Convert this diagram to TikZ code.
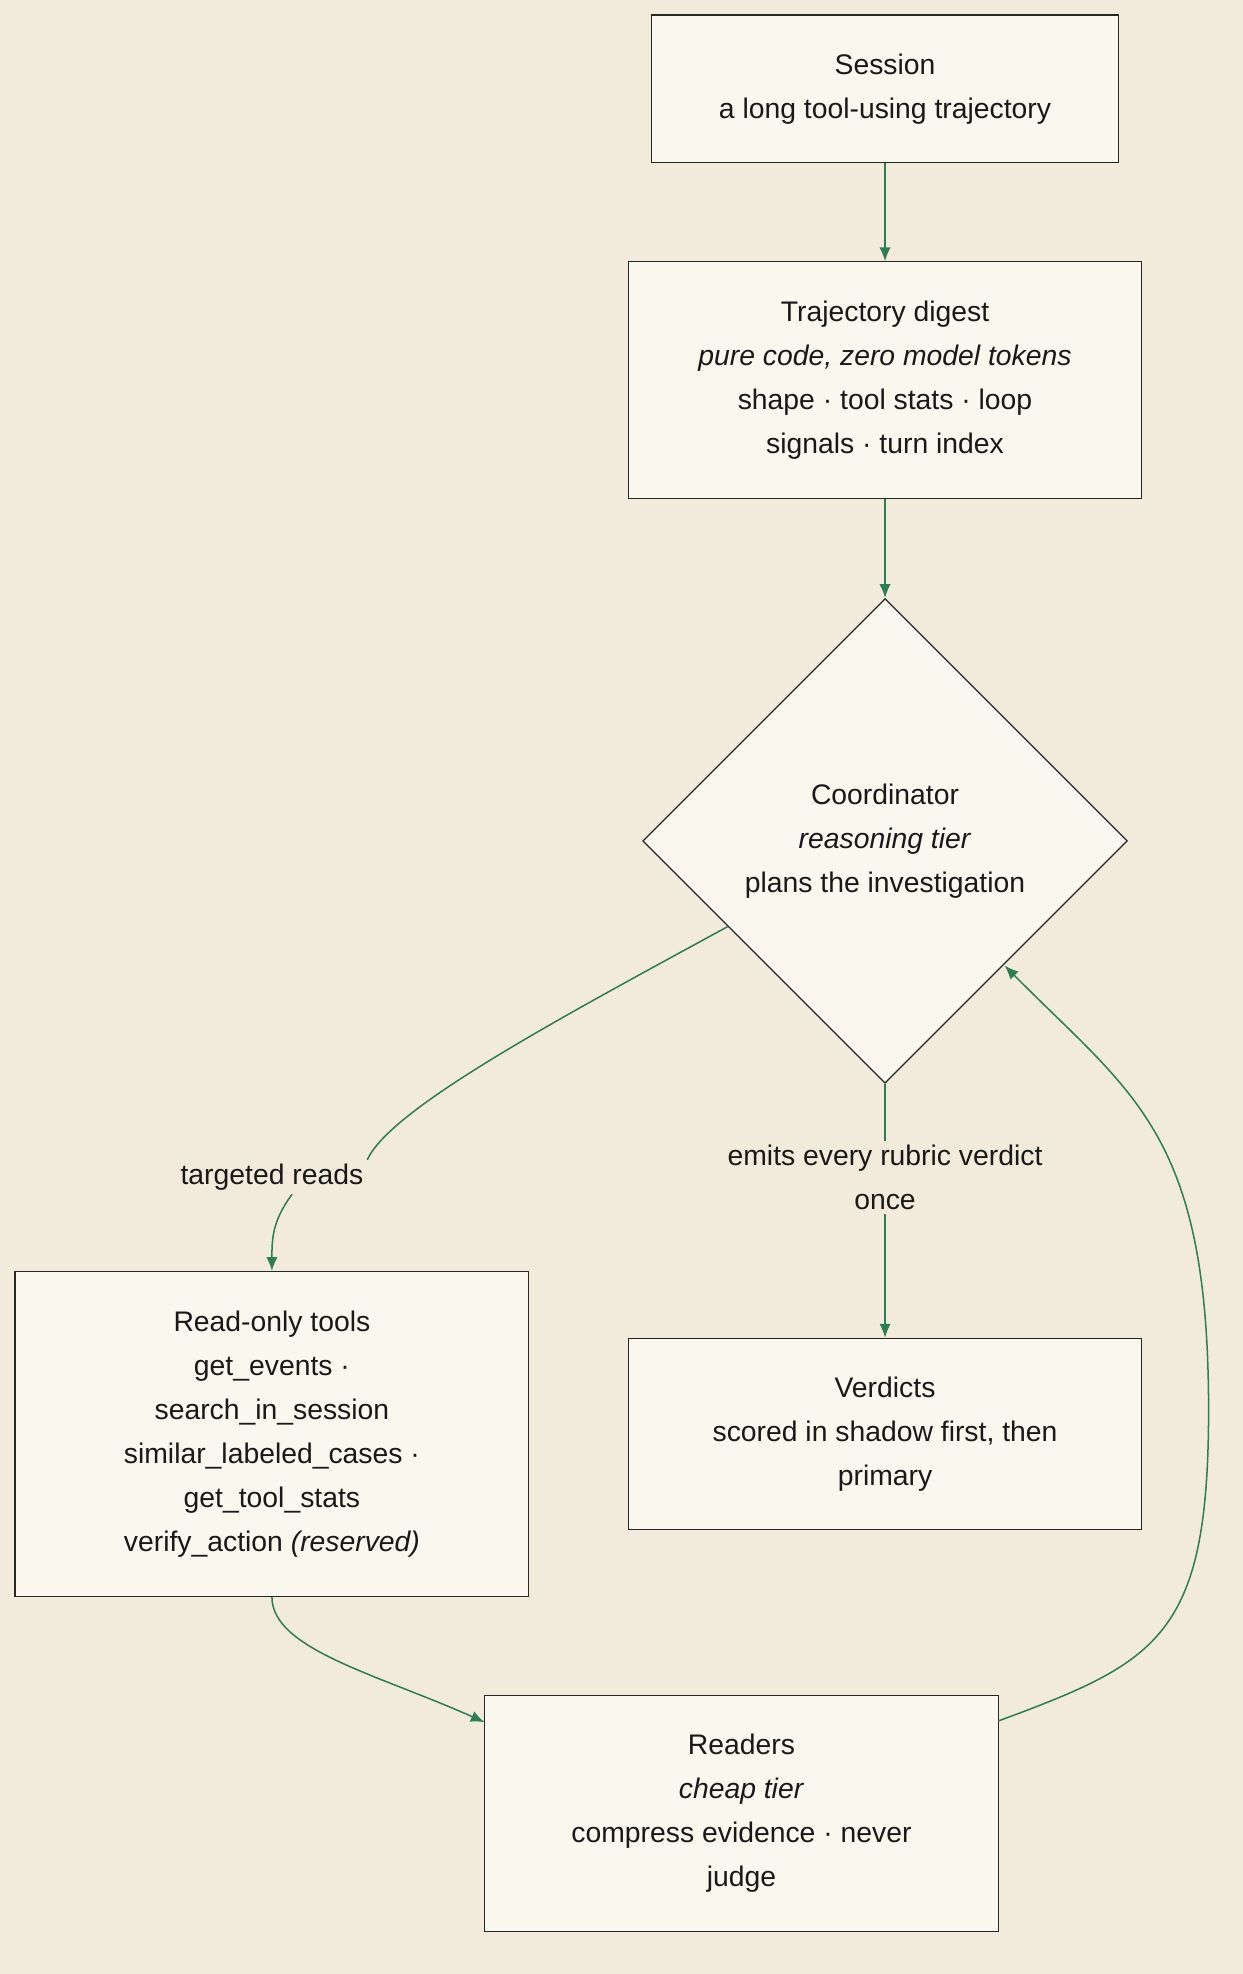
\documentclass[tikz,border=0pt]{standalone}
\usepackage{fontspec}
\setmainfont{Liberation Sans}
\usetikzlibrary{shapes.geometric,arrows.meta}
\definecolor{bg}{HTML}{F2EBDB}
\definecolor{nf}{HTML}{FAF7EF}
\definecolor{eg}{HTML}{2E7D57}
\begin{document}
\begin{tikzpicture}[x=1pt,y=-1pt,
  every node/.style={font=\fontsize{22.5}{35}\selectfont, align=center, text=black!90},
  box/.style={draw=black!85, fill=nf, line width=1pt, inner sep=0pt},
  edge/.style={draw=eg, line width=1.2pt, -{Latex[length=11pt,width=9pt]}},
  lbl/.style={fill=bg, inner sep=3pt}]
\fill[bg] (0,0) rectangle (987,1568);
\useasboundingbox (0,0) rectangle (987,1568);
\node[box, minimum width=371, minimum height=117] (s) at (703,70.5) {Session\\a long tool-using trajectory};
\node[box, minimum width=408, minimum height=188] (d) at (703,302) {Trajectory digest\\\textit{pure code, zero model tokens}\\shape · tool stats · loop\\signals · turn index};
\node[box, diamond, minimum width=385, minimum height=385, aspect=1] (c) at (703,668) {};
\node at (703,668) {Coordinator\\\textit{reasoning tier}\\plans the investigation};
\node[box, minimum width=408, minimum height=258] (t) at (216,1139) {Read-only tools\\get\_events ·\\search\_in\_session\\similar\_labeled\_cases ·\\get\_tool\_stats\\verify\_action \textit{(reserved)}};
\node[box, minimum width=408, minimum height=152] (v) at (703,1139) {Verdicts\\scored in shadow first, then\\primary};
\node[box, minimum width=408, minimum height=187] (r) at (589,1440.5) {Readers\\\textit{cheap tier}\\compress evidence · never\\judge};
\draw[edge] (s.south) -- (d.north);
\draw[edge] (d.south) -- (c.north);
\node[lbl] (l1) at (216,935) {targeted reads};
\node[lbl] (l2) at (703,935) {emits every rubric verdict\\once};
\draw[edge] (c.south) -- (l2.north) (l2.south) -- (v.north);
\coordinate (ca) at (578,736);
\draw[draw=eg, line width=1.2pt] (ca) .. controls (450,806) and (310,880) .. (l1.north east);
\draw[edge] (l1.south) ++(16,0) .. controls (216,970) and (216,985) .. (t.north);
\coordinate (ra) at (385,1368);
\draw[edge] (t.south) .. controls (216,1310) and (300,1330) .. (ra);
\coordinate (rb) at (793,1367);
\coordinate (cb) at (798,767);
\draw[edge] (rb) .. controls (920,1320) and (960,1300) .. (960,1120) .. controls (960,900) and (900,870) .. (cb);
\end{tikzpicture}
\end{document}
